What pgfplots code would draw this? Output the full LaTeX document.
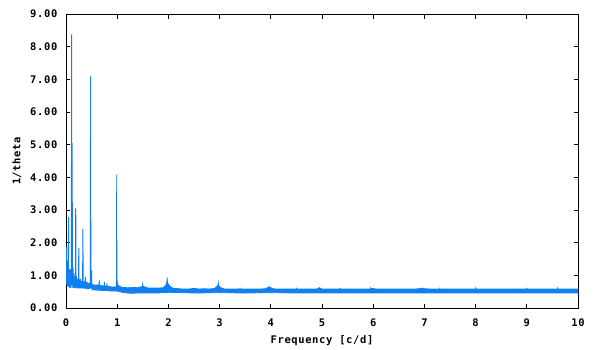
\documentclass[border=0pt]{standalone}
\usepackage{fontspec}
\setmainfont{DejaVu Sans Mono}[LetterSpace=6]
\usepackage{pgfplots}
\pgfplotsset{compat=1.18}
\definecolor{pblue}{RGB}{16,128,240}
\begin{document}
\fontsize{10.5}{12}\selectfont\bfseries
\begin{tikzpicture}
\begin{axis}[
  scale only axis, width=512bp, height=294bp,
  xmin=0, xmax=10, ymin=0, ymax=9,
  xtick={0,1,2,3,4,5,6,7,8,9,10}, ytick={0,1,2,3,4,5,6,7,8,9},
  /pgf/number format/assume math mode=true,
  yticklabel style={/pgf/number format/fixed, /pgf/number format/fixed zerofill, /pgf/number format/precision=2, xshift=-5bp},
  tick label style={font=\fontsize{10.5}{12}\selectfont\bfseries},
  xticklabel style={yshift=-7bp},
  label style={font=\fontsize{10.5}{12}\selectfont\bfseries},
  xlabel={Frequency [c/d]}, ylabel={1/theta},
  xlabel style={at={(axis description cs:0.5,0)}, anchor=center, yshift=-33bp},
  ylabel style={at={(axis description cs:-0.0957,0.5)}, anchor=center},
  tick align=inside, major tick length=4.5bp,
  axis line style={line width=1bp},
  every tick/.style={black, line width=1bp},
  tick pos=both,
]
% low-frequency part
\addplot[pblue, line width=1bp] coordinates {
(0.000,1.77)(0.005,0.75)(0.010,1.87)(0.015,0.70)(0.020,1.45)(0.025,0.68)(0.030,1.20)(0.035,0.66)
(0.040,1.05)(0.045,0.70)(0.050,2.78)(0.055,0.65)(0.060,1.15)(0.065,0.64)(0.070,1.05)(0.075,0.62)
(0.080,1.18)(0.085,0.63)(0.090,1.00)(0.095,0.62)(0.100,1.10)(0.105,0.70)(0.110,8.38)(0.115,0.75)
(0.120,5.05)(0.125,0.68)(0.130,1.10)(0.135,0.62)(0.140,1.22)(0.145,0.61)(0.150,0.95)(0.155,0.62)
(0.160,1.05)(0.165,0.61)(0.170,0.90)(0.175,0.62)(0.180,0.95)(0.185,0.66)(0.190,3.05)(0.195,0.63)
(0.200,0.98)(0.205,0.60)(0.210,0.88)(0.215,0.62)(0.220,0.85)(0.225,0.60)(0.230,0.90)(0.235,0.61)
(0.240,0.82)(0.245,0.62)(0.250,1.84)(0.255,0.60)(0.260,0.85)(0.265,0.61)(0.270,0.80)(0.275,0.60)
(0.280,0.89)(0.285,0.62)(0.290,0.78)(0.295,0.60)(0.300,0.82)(0.305,0.61)(0.310,0.80)(0.315,0.60)
(0.320,0.85)(0.325,0.63)(0.330,2.42)(0.335,0.60)(0.340,0.80)(0.345,0.59)(0.350,0.78)(0.355,0.60)
(0.360,0.82)(0.365,0.59)(0.370,0.80)(0.375,0.60)(0.380,0.95)(0.385,0.59)(0.390,0.78)(0.395,0.60)
(0.400,0.76)(0.405,0.59)(0.410,0.80)(0.415,0.58)(0.420,0.75)(0.425,0.59)(0.430,0.77)(0.435,0.58)
(0.440,0.74)(0.445,0.59)(0.450,0.76)(0.455,0.58)(0.460,0.73)(0.465,0.60)(0.470,0.80)(0.475,0.62)
(0.480,7.09)(0.485,0.65)(0.490,0.85)(0.495,0.60)(0.500,1.16)(0.505,0.56)
};
% noise band from 0.5 to 10: upper envelope, then lower envelope back
\addplot[pblue, fill=pblue, line width=0.8bp] coordinates {
(0.505,0.70)(0.520,0.72)(0.550,0.70)(0.600,0.70)(0.645,0.70)(0.650,0.86)(0.655,0.70)(0.700,0.68)
(0.745,0.68)(0.750,0.80)(0.755,0.68)(0.795,0.66)(0.800,0.75)(0.805,0.66)(0.850,0.66)(0.900,0.64)
(0.950,0.64)(0.980,0.66)(0.985,0.76)(0.990,4.08)(0.995,0.88)(1.000,0.80)(1.010,0.70)(1.050,0.66)
(1.100,0.63)(1.200,0.62)(1.250,0.62)(1.300,0.63)(1.400,0.62)(1.450,0.64)(1.495,0.66)(1.500,0.73)
(1.505,0.66)(1.550,0.64)(1.600,0.61)(1.700,0.61)(1.800,0.61)(1.900,0.62)(1.950,0.70)(1.970,0.80)
(1.975,0.93)(1.980,0.80)(2.000,0.72)(2.050,0.64)(2.100,0.60)(2.200,0.59)(2.300,0.58)(2.400,0.58)
(2.500,0.60)(2.600,0.58)(2.700,0.59)(2.800,0.58)(2.900,0.60)(2.950,0.66)(2.970,0.70)(2.975,0.77)
(2.980,0.70)(3.000,0.65)(3.050,0.60)(3.100,0.58)(3.200,0.58)(3.300,0.58)(3.395,0.58)(3.400,0.60)
(3.405,0.58)(3.500,0.58)(3.600,0.58)(3.700,0.58)(3.800,0.58)(3.900,0.59)(3.950,0.63)(3.975,0.65)
(4.000,0.62)(4.050,0.59)(4.100,0.58)(4.200,0.58)(4.300,0.58)(4.400,0.58)(4.495,0.58)(4.500,0.60)
(4.505,0.58)(4.600,0.58)(4.700,0.58)(4.800,0.58)(4.900,0.58)(4.930,0.61)(4.950,0.62)(4.975,0.60)
(5.000,0.58)(5.100,0.58)(5.200,0.58)(5.300,0.58)(5.345,0.58)(5.350,0.60)(5.355,0.58)(5.500,0.58)
(5.600,0.58)(5.700,0.58)(5.800,0.58)(5.945,0.58)(5.950,0.61)(5.955,0.58)(6.000,0.60)(6.050,0.58)
(6.200,0.58)(6.400,0.58)(6.600,0.58)(6.800,0.58)(6.900,0.59)(6.950,0.61)(7.000,0.59)(7.100,0.58)
(7.295,0.58)(7.300,0.60)(7.305,0.58)(7.500,0.58)(7.700,0.58)(7.900,0.58)(7.995,0.58)(8.000,0.61)
(8.005,0.58)(8.200,0.58)(8.400,0.58)(8.600,0.58)(8.800,0.58)(8.995,0.58)(9.000,0.60)(9.005,0.58)
(9.200,0.58)(9.400,0.58)(9.595,0.58)(9.600,0.61)(9.605,0.58)(9.800,0.58)(10.000,0.58)
(10.000,0.46)(9.500,0.46)(9.000,0.46)(8.500,0.46)(8.000,0.46)(7.500,0.46)(7.000,0.46)(6.500,0.46)
(6.000,0.46)(5.500,0.46)(5.000,0.46)(4.500,0.46)(4.000,0.47)(3.500,0.46)(3.000,0.47)(2.500,0.46)
(2.000,0.48)(1.800,0.46)(1.600,0.46)(1.400,0.46)(1.300,0.45)(1.200,0.46)(1.100,0.48)(1.000,0.52)
(0.900,0.52)(0.800,0.53)(0.700,0.54)(0.600,0.55)(0.505,0.56)
};
\end{axis}
\pgfresetboundingbox
\path (current axis.south west) ++(-66bp,-42bp) rectangle ++(600bp,350bp);
\end{tikzpicture}
\end{document}
